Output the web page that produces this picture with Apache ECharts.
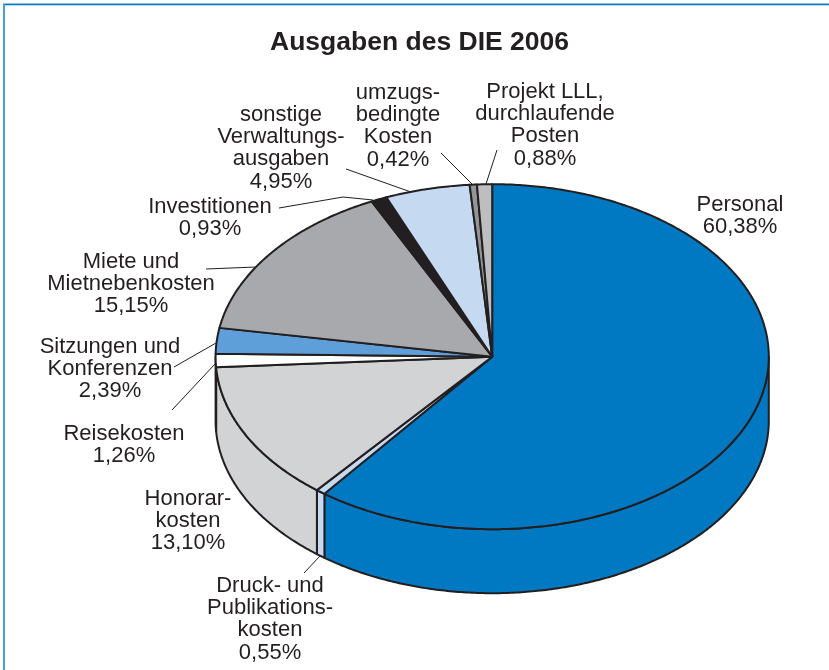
<!DOCTYPE html>
<html><head><meta charset="utf-8">
<style>html,body{margin:0;padding:0;background:#fff}#c{width:829px;height:670px}</style>
<script src="https://cdn.jsdelivr.net/npm/echarts@6/dist/echarts.min.js"></script>
</head><body><div id="c"></div>
<script>
const titleText = 'Ausgaben des DIE 2006';
const categories = ['Personal','Druck- und Publikationskosten','Honorarkosten','Reisekosten','Sitzungen und Konferenzen','Miete und Mietnebenkosten','Investitionen','sonstige Verwaltungsausgaben','umzugsbedingte Kosten','Projekt LLL, durchlaufende Posten'];
const shares = [60.38,0.55,13.10,1.26,2.39,15.15,0.93,4.95,0.42,0.88];
const valueLabels = ['60,38%','0,55%','13,10%','1,26%','2,39%','15,15%','0,93%','4,95%','0,42%','0,88%'];
const nameLines = [['Personal'],['Druck- und','Publikations-','kosten'],['Honorar-','kosten'],['Reisekosten'],['Sitzungen und','Konferenzen'],['Miete und','Mietnebenkosten'],['Investitionen'],['sonstige','Verwaltungs-','ausgaben'],['umzugs-','bedingte','Kosten'],['Projekt LLL,','durchlaufende','Posten']];
const colors = ['#0079c2','#c5d9f1','#d1d3d4','#ffffff','#5f9fd9','#a7a9ac','#231f20','#c5d9f1','#939598','#bcbec0'];
const labelAnchors = [[740,205],[270,586],[188,499],[124,434],[110,347],[131,262],[210,207],[281,115],[398,93],[545,92]];
const leaders = [null,[[304,573],[320,556]],null,[[172,410],[215,364]],[[174,367],[216,343]],[[206,269],[256,267]],[[279,208],[343,197],[373,200]],[[346,169],[411,192]],[[441,153],[473,185]],[[497,150],[486,184]]];

const CX=492.2, CY=356.7, RX=276.6, RY=172.5, DEPTH=64, TOTAL=shares.reduce((a,b)=>a+b,0);
const INK='#231f20', LINE_H=22.2, FONT=22;
const starts=[]; shares.reduce((acc,v,i)=>{starts[i]=acc;return acc+v;},0);
const pt=(t,dy=0)=>[CX+RX*Math.sin(t),CY-RY*Math.cos(t)+dy];
function arc(a,b,dy){const n=Math.max(2,Math.ceil(Math.abs(b-a)/0.01));const o=[];for(let i=0;i<=n;i++)o.push(pt(a+(b-a)*i/n,dy));return o;}
const ang=v=>v/TOTAL*2*Math.PI;

function renderSide(params,api){
  const i=params.dataIndex, a=ang(starts[i]), b=ang(starts[i]+shares[i]);
  const lo=Math.max(a,Math.PI/2), hi=Math.min(b,3*Math.PI/2);
  if(hi<=lo) return {type:'group',children:[]};
  const pts=arc(lo,hi,0).concat(arc(hi,lo,DEPTH)).map(p=>api.coord(p));
  return {type:'polygon',shape:{points:pts},style:{fill:colors[i],stroke:INK,lineWidth:2,lineJoin:'round'}};
}
function renderTop(params,api){
  const i=params.dataIndex, a=ang(starts[i]), b=ang(starts[i]+shares[i]);
  const pts=[[CX,CY]].concat(arc(a,b,0)).map(p=>api.coord(p));
  return {type:'polygon',shape:{points:pts},style:{fill:colors[i],stroke:INK,lineWidth:2,lineJoin:'round'}};
}
function renderLabel(params,api){
  const i=params.dataIndex, lines=nameLines[i].concat([valueLabels[i]]);
  const a=labelAnchors[i], kids=[];
  lines.forEach((t,k)=>{const p=api.coord([a[0],a[1]+k*LINE_H]);
    kids.push({type:'text',style:{text:t,x:p[0],y:p[1],align:'center',verticalAlign:'middle',fill:INK,font:FONT+'px "Liberation Sans"'}});});
  if(leaders[i]) kids.push({type:'polyline',shape:{points:leaders[i].map(p=>api.coord(p))},style:{fill:'none',stroke:INK,lineWidth:1}});
  return {type:'group',children:kids};
}
const rows=shares.map((v,i)=>[i,v]);
const chart=echarts.init(document.getElementById('c'),null,{renderer:'canvas'});
chart.setOption({
  animation:false,backgroundColor:'#fff',
  title:{text:titleText,left:414.5,top:38,textAlign:'center',textVerticalAlign:'middle',textStyle:{fontFamily:'Liberation Sans',fontWeight:'bold',fontSize:26.5,color:INK}},
  grid:{left:0,top:0,right:0,bottom:0},
  xAxis:{type:'value',min:0,max:829,show:false},
  yAxis:{type:'value',min:0,max:670,inverse:true,show:false},
  graphic:[
    {type:'line',shape:{x1:3,y1:3.5,x2:829,y2:3.5},style:{stroke:'#c9d6df',lineWidth:1}},
    {type:'line',shape:{x1:3,y1:4.5,x2:829,y2:4.5},style:{stroke:'#0079c8',lineWidth:1.4}},
    {type:'line',shape:{x1:4,y1:4,x2:4,y2:670},style:{stroke:'#46a0d6',lineWidth:2}}
  ],
  series:[
    {type:'custom',name:'side',data:rows,renderItem:renderSide,clip:false,silent:true},
    {type:'custom',name:'top',data:rows,renderItem:renderTop,clip:false,silent:true},
    {type:'custom',name:'labels',data:rows,renderItem:renderLabel,clip:false,silent:true}
  ]
});
</script></body></html>
